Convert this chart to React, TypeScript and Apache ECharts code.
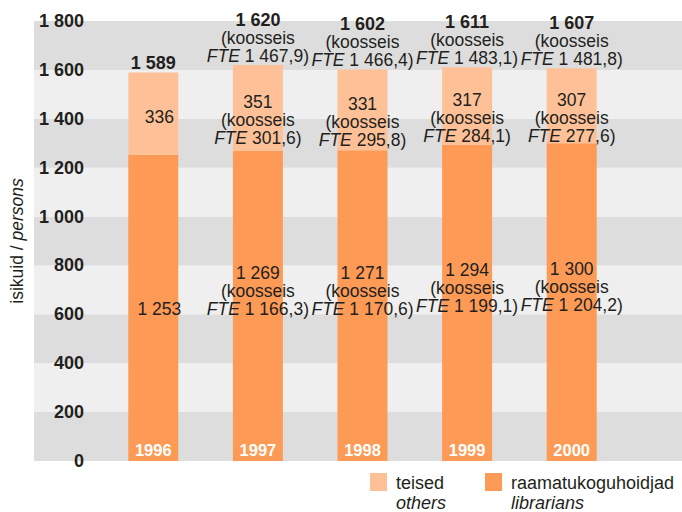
import React, { useEffect, useRef } from "react";
import * as echarts from "echarts";

const years = [1996, 1997, 1998, 1999, 2000];
const librarians = [1253, 1269, 1271, 1294, 1300];
const librariansFTE: (number | null)[] = [null, 1166.3, 1170.6, 1199.1, 1204.2];
const others = [336, 351, 331, 317, 307];
const othersFTE: (number | null)[] = [null, 301.6, 295.8, 284.1, 277.6];
const totals = [1589, 1620, 1602, 1611, 1607];
const totalsFTE: (number | null)[] = [null, 1467.9, 1466.4, 1483.1, 1481.8];

const yMin = 0;
const yMax = 1800;
const yStep = 200;

const legendNames = ["teised", "raamatukoguhoidjad"];
const legendNamesEn = ["others", "librarians"];
const yAxisName = "isikuid";
const yAxisNameEn = "persons";

const DARK = "#fd9a55";
const LIGHT = "#fec197";
const TEXT = "#231f20";
const FONT = "'Liberation Sans', Arial, Helvetica, sans-serif";

const fmtInt = (n: number) => String(n).replace(/\B(?=(\d{3})+(?!\d))/g, "\u00a0");
const fmtDec = (n: number) => {
  const [i, d] = n.toFixed(1).split(".");
  return fmtInt(Number(i)) + "," + d;
};
const block = (v: number, fte: number | null, bold = false) => {
  const head = bold ? `{b|${fmtInt(v)}}` : fmtInt(v);
  if (fte == null) return head;
  return `${head}\n(koosseis\n{i|FTE} ${fmtDec(fte)})`;
};

const rich = {
  b: { fontWeight: "bold", fontSize: 18, lineHeight: 18, color: TEXT, fontFamily: FONT },
  i: { fontStyle: "italic", fontSize: 17.5, lineHeight: 18, color: TEXT, fontFamily: FONT },
};

export default function App() {
  const ref = useRef<HTMLDivElement>(null);
  useEffect(() => {
    if (!ref.current) return;
    const chart = echarts.init(ref.current, undefined, { renderer: "svg" });
    const option: any = {
      animation: false,
      backgroundColor: "#ffffff",
      textStyle: { fontFamily: FONT },
      grid: [
        { left: 30, right: 0, top: 21, bottom: 51, containLabel: false },
        { left: 101, right: 58, top: 21, bottom: 51, containLabel: false },
      ],
      xAxis: [
        { type: "value", gridIndex: 0, min: 0, max: 1, show: false },
        {
          type: "category",
          gridIndex: 1,
          data: years.map(String),
          z: 10,
          axisLine: { show: false },
          axisTick: { show: false },
          splitLine: { show: false },
          axisLabel: {
            inside: true,
            margin: 3,
            color: "#ffffff",
            fontWeight: "bold",
            fontSize: 16.5,
            fontFamily: FONT,
          },
        },
      ],
      yAxis: [
        {
          type: "value",
          gridIndex: 0,
          min: yMin,
          max: yMax,
          interval: yStep,
          name: `${yAxisName} / {i|${yAxisNameEn}}`,
          nameLocation: "middle",
          nameGap: 8,
          nameTextStyle: {
            fontSize: 17.5,
            color: TEXT,
            fontFamily: FONT,
            rich: { i: { fontStyle: "italic", fontSize: 17.5, color: TEXT, fontFamily: FONT } },
          },
          axisLine: { show: false },
          axisTick: { show: false },
          splitLine: { show: false },
          splitArea: { show: true, areaStyle: { color: ["#dddddd", "#efefef"] } },
          axisLabel: {
            margin: -50,
            fontWeight: "bold",
            fontSize: 18,
            color: TEXT,
            fontFamily: FONT,
            formatter: (v: number) => fmtInt(v),
          },
        },
        {
          type: "value",
          gridIndex: 1,
          min: yMin,
          max: yMax,
          interval: yStep,
          show: false,
          splitLine: { show: false },
        },
      ],
      series: [
        {
          name: legendNames[1],
          type: "bar",
          xAxisIndex: 1,
          yAxisIndex: 1,
          stack: "s",
          barWidth: 50,
          itemStyle: { color: DARK },
          data: librarians,
          label: {
            show: true,
            position: "inside",
            fontSize: 17.5,
            lineHeight: 18,
            color: TEXT,
            fontFamily: FONT,
            rich,
            formatter: (p: any) => block(librarians[p.dataIndex], librariansFTE[p.dataIndex]),
          },
          labelLayout: (p: any) =>
            librariansFTE[p.dataIndex] == null ? { dx: 6, dy: 1 } : { dy: -15 },
        },
        {
          name: legendNames[0],
          type: "bar",
          xAxisIndex: 1,
          yAxisIndex: 1,
          stack: "s",
          barWidth: 50,
          itemStyle: { color: LIGHT },
          data: others,
          label: {
            show: true,
            position: "inside",
            fontSize: 17.5,
            lineHeight: 18,
            color: TEXT,
            fontFamily: FONT,
            rich,
            formatter: (p: any) => block(others[p.dataIndex], othersFTE[p.dataIndex]),
          },
          labelLayout: (p: any) =>
            othersFTE[p.dataIndex] == null ? { dx: 6, dy: 3 } : { dy: 12 },
        },
        {
          name: "total",
          type: "line",
          xAxisIndex: 1,
          yAxisIndex: 1,
          symbol: "rect",
          symbolSize: 1,
          itemStyle: { color: "rgba(0,0,0,0)" },
          lineStyle: { width: 0, color: "rgba(0,0,0,0)" },
          z: 5,
          data: totals,
          label: {
            show: true,
            position: "top",
            distance: 0,
            fontSize: 17.5,
            lineHeight: 18,
            color: TEXT,
            fontFamily: FONT,
            rich,
            formatter: (p: any) => block(totals[p.dataIndex], totalsFTE[p.dataIndex], true),
          },
        },
      ],
      graphic: [
        { type: "rect", left: 370, top: 473, shape: { width: 17, height: 18 }, style: { fill: LIGHT } },
        { type: "text", left: 396, top: 474, style: { text: legendNames[0], fontSize: 18, fill: TEXT, fontFamily: FONT } },
        { type: "text", left: 396, top: 494, style: { text: legendNamesEn[0], fontSize: 18, fontStyle: "italic", fill: TEXT, fontFamily: FONT } },
        { type: "rect", left: 485, top: 473, shape: { width: 17, height: 18 }, style: { fill: DARK } },
        { type: "text", left: 511, top: 474, style: { text: legendNames[1], fontSize: 18, fill: TEXT, fontFamily: FONT } },
        { type: "text", left: 511, top: 494, style: { text: legendNamesEn[1], fontSize: 18, fontStyle: "italic", fill: TEXT, fontFamily: FONT } },
      ],
    };
    chart.setOption(option);
    return () => chart.dispose();
  }, []);
  return <div ref={ref} style={{ width: 682, height: 512, position: "absolute", left: 0, top: 0 }} />;
}
